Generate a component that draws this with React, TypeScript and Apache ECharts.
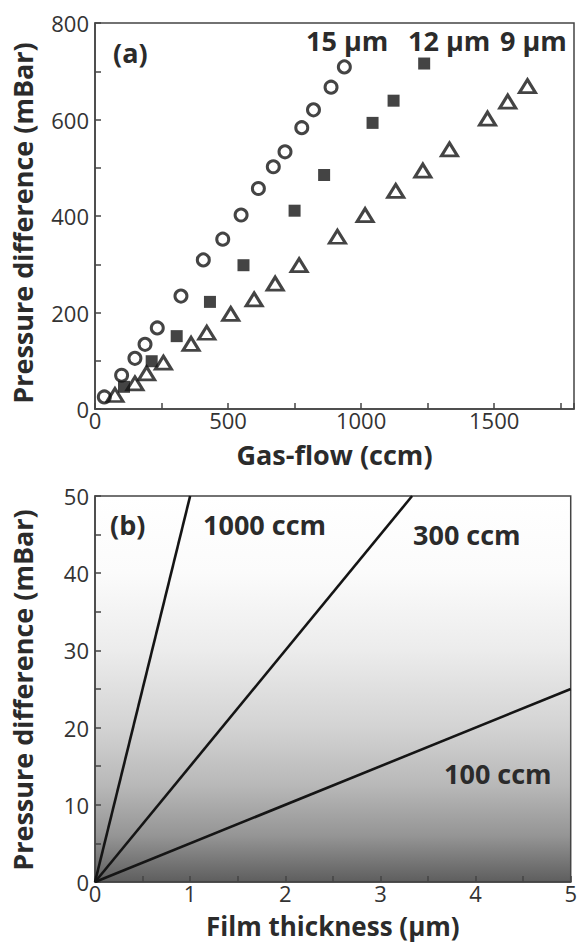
import React, { useEffect, useRef } from "react";
import * as echarts from "echarts";

// ---- Panel (a): pressure difference vs gas flow ----
const flow15um: [number, number][] = [
  [35, 25], [100, 70], [150, 105], [188, 134], [234, 168], [323, 234],
  [407, 309], [480, 352], [549, 402], [614, 457], [670, 502], [714, 533],
  [777, 583], [821, 620], [887, 667], [937, 709],
];
const flow12um: [number, number][] = [
  [109, 46], [213, 99], [307, 151], [432, 222], [558, 298], [750, 411],
  [861, 485], [1043, 593], [1122, 639], [1237, 716],
];
const flow9um: [number, number][] = [
  [75, 29], [150, 53], [194, 74], [257, 96], [361, 135], [420, 158],
  [510, 197], [598, 227], [677, 260], [767, 298], [911, 357], [1015, 402],
  [1130, 452], [1232, 494], [1332, 538], [1475, 602], [1551, 637], [1625, 669],
];

// ---- Panel (b): pressure difference vs film thickness ----
const line100ccm: [number, number][] = [[0, 0], [5, 25]];
const line300ccm: [number, number][] = [[0, 0], [3.333, 50]];
const line1000ccm: [number, number][] = [[0, 0], [1, 50]];

const yAxisTitle = "Pressure difference (mBar)";

const FONT = '"Open Sans", "DejaVu Sans", sans-serif';
const TXT = "#2b2b2b";
const AX = "#444444";
const MARK = "#151515";

function axisCommon(labelStep: number, margin: number, nameSize = 27) {
  return {
    axisLine: { show: true, lineStyle: { color: AX, width: 1.5 } },
    axisTick: { show: true, inside: true, length: 6, lineStyle: { color: AX, width: 1.5 } },
    splitLine: { show: false },
    axisLabel: {
      color: "#333",
      fontSize: 22,
      lineHeight: 22,
      margin,
      fontFamily: FONT,
      formatter: (v: number) => {
        const r = Math.round(v * 1000) / 1000;
        return Math.abs(r / labelStep - Math.round(r / labelStep)) < 1e-6 ? String(r) : "";
      },
    },
    nameTextStyle: { color: TXT, fontSize: nameSize, lineHeight: nameSize, fontWeight: "bold", fontFamily: FONT },
  };
}

export default function App() {
  const ref = useRef<HTMLDivElement>(null);
  useEffect(() => {
    if (!ref.current) return;
    const chart = echarts.init(ref.current, null, { renderer: "svg" });
    const labelFont = `bold 27px ${FONT}`;
    const t = (text: string, x: number, y: number) => ({
      type: "text",
      x,
      y,
      z: 100,
      style: { text, font: labelFont, fill: TXT, align: "left", verticalAlign: "middle" },
    });
    const yTitle = (y: number) => ({
      type: "text",
      x: 22,
      y,
      rotation: Math.PI / 2,
      z: 100,
      style: { text: yAxisTitle, font: labelFont, fill: TXT, align: "center", verticalAlign: "middle" },
    });
    chart.setOption({
      animation: false,
      backgroundColor: "#ffffff",
      textStyle: { fontFamily: FONT },
      grid: [
        {
          left: 95, top: 23, width: 479, height: 386,
          show: true, borderColor: AX, borderWidth: 1.5, backgroundColor: "#ffffff",
        },
        {
          left: 95, top: 496, width: 480, height: 386,
          show: true, borderColor: AX, borderWidth: 1.5,
          backgroundColor: {
            type: "linear", x: 0, y: 0, x2: 0, y2: 1,
            colorStops: [
              { offset: 0, color: "#ffffff" },
              { offset: 0.2, color: "#fbfbfb" },
              { offset: 0.4, color: "#ececec" },
              { offset: 0.6, color: "#d3d3d3" },
              { offset: 0.75, color: "#b8b8b8" },
              { offset: 0.88, color: "#959595" },
              { offset: 1, color: "#5e5e5e" },
            ],
          },
        },
      ],
      xAxis: [
        {
          type: "value", gridIndex: 0, min: 0, max: 1800, interval: 250,
          name: "Gas-flow (ccm)", nameLocation: "middle", nameGap: 32,
          ...axisCommon(500, 0),
        },
        {
          type: "value", gridIndex: 1, min: 0, max: 5, interval: 0.5,
          name: "Film thickness (µm)", nameLocation: "middle", nameGap: 31,
          ...axisCommon(1, 0, 26),
        },
      ],
      yAxis: [
        {
          type: "value", gridIndex: 0, min: 0, max: 800, interval: 100,
          ...axisCommon(200, 6),
        },
        {
          type: "value", gridIndex: 1, min: 0, max: 50, interval: 5,
          ...axisCommon(10, 6),
        },
      ],
      series: [
        {
          name: "9 µm", type: "scatter", xAxisIndex: 0, yAxisIndex: 0,
          data: flow9um, symbol: "triangle", symbolSize: [16, 13],
          itemStyle: { color: "rgba(0,0,0,0)", borderColor: MARK, borderWidth: 3 },
        },
        {
          name: "15 µm", type: "scatter", xAxisIndex: 0, yAxisIndex: 0,
          data: flow15um, symbol: "circle", symbolSize: 12,
          itemStyle: { color: "rgba(0,0,0,0)", borderColor: MARK, borderWidth: 3 },
        },
        {
          name: "12 µm", type: "scatter", xAxisIndex: 0, yAxisIndex: 0,
          data: flow12um, symbol: "rect", symbolSize: 12,
          itemStyle: { color: MARK },
        },
        {
          name: "100 ccm", type: "line", xAxisIndex: 1, yAxisIndex: 1,
          data: line100ccm, symbol: "none",
          lineStyle: { color: MARK, width: 2.6 },
        },
        {
          name: "300 ccm", type: "line", xAxisIndex: 1, yAxisIndex: 1,
          data: line300ccm, symbol: "none",
          lineStyle: { color: MARK, width: 2.6 },
        },
        {
          name: "1000 ccm", type: "line", xAxisIndex: 1, yAxisIndex: 1,
          data: line1000ccm, symbol: "none",
          lineStyle: { color: MARK, width: 2.6 },
        },
      ],
      graphic: [
        yTitle(223),
        yTitle(690),
        t("(a)", 113, 52),
        t("15 µm", 306, 40),
        t("12 µm", 408, 40),
        t("9 µm", 500, 40),
        t("(b)", 110, 524),
        t("1000 ccm", 203, 524),
        t("300 ccm", 413, 534),
        t("100 ccm", 444, 773),
      ],
    });
    return () => chart.dispose();
  }, []);
  return (
    <div
      ref={ref}
      style={{ position: "absolute", left: 0, top: 0, width: 580, height: 944 }}
    />
  );
}
